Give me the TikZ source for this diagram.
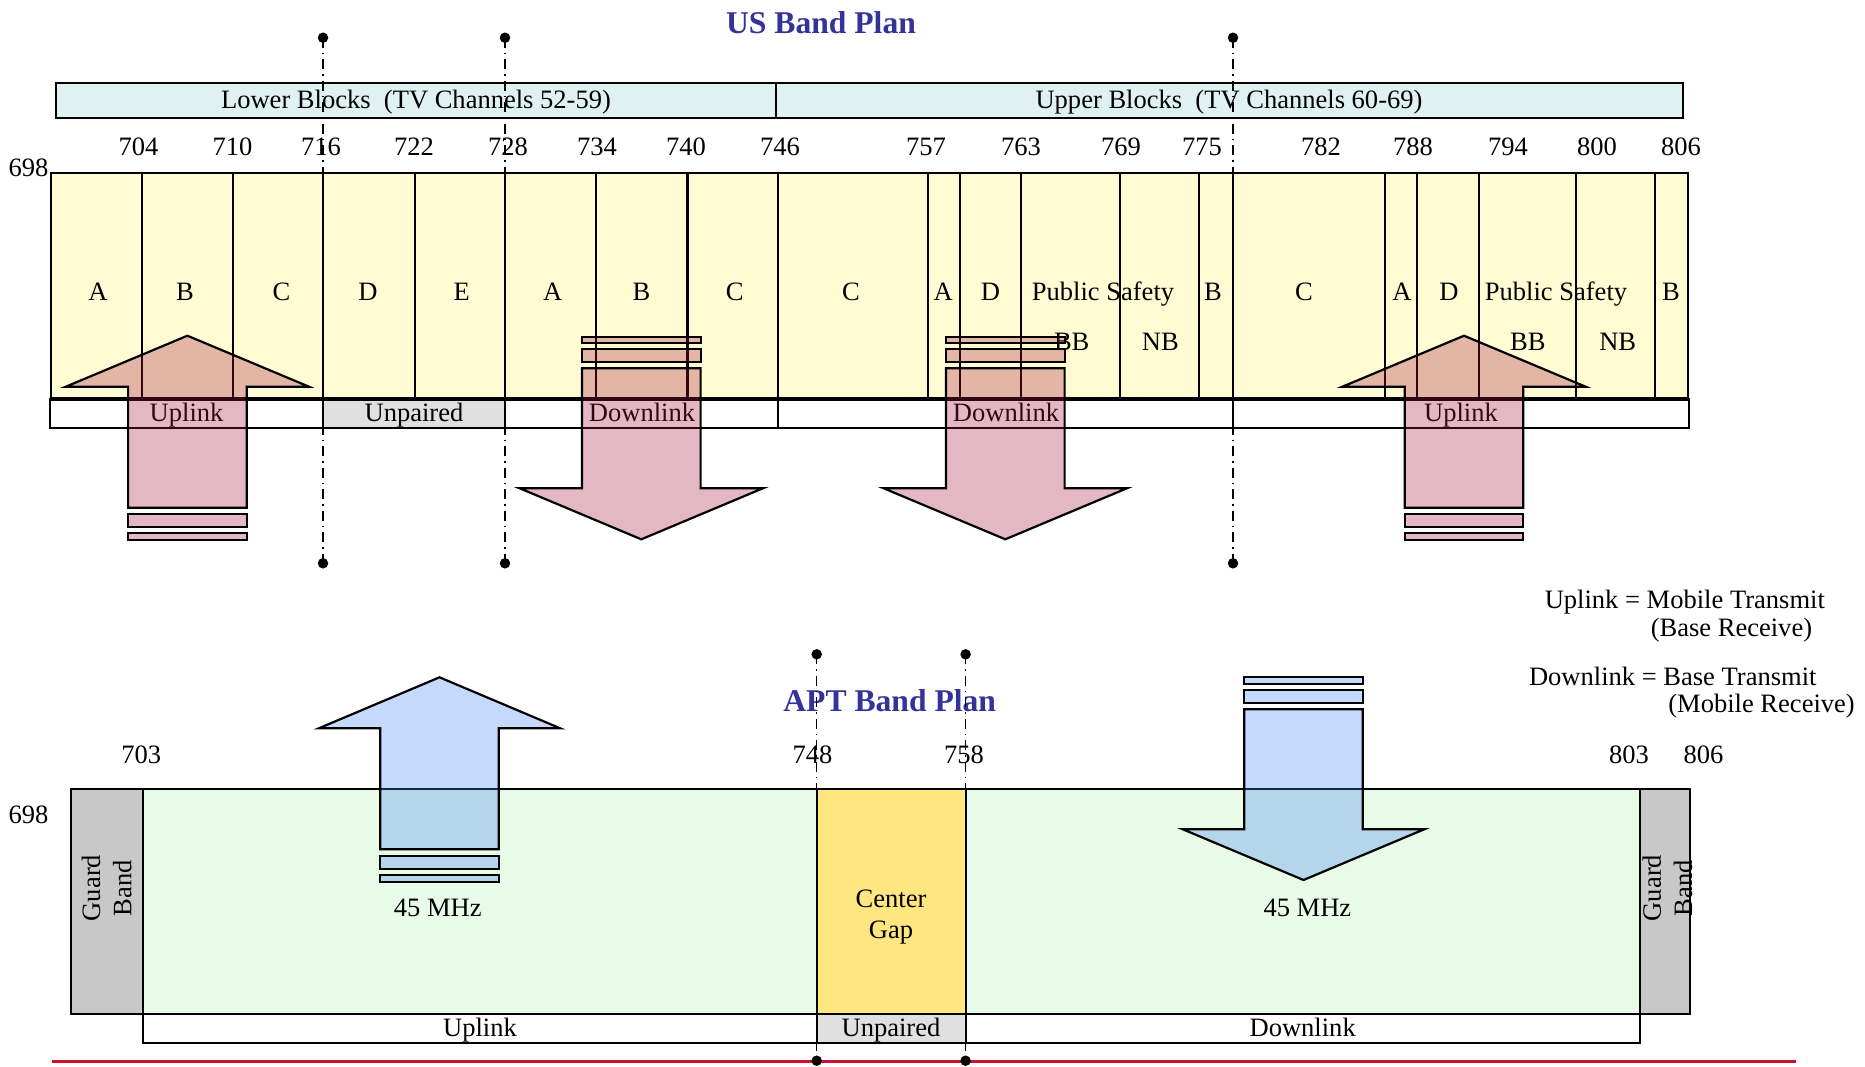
\documentclass[tikz,border=0pt]{standalone}
\usepackage{fontspec}
\setmainfont{Liberation Serif}
\definecolor{BandTitle}{HTML}{333399}
\definecolor{BandYellow}{HTML}{FFFCD4}
\definecolor{BandCyan}{HTML}{DFF1F1}
\definecolor{BandGrey}{HTML}{E0E0E0}
\definecolor{BandGreen}{HTML}{E8FBE8}
\definecolor{BandGap}{HTML}{FFE680}
\definecolor{BandGuard}{HTML}{C8C8C8}
\definecolor{BandPink}{RGB}{165,18,58}
\definecolor{BandBlue}{RGB}{62,128,245}
\definecolor{BandRed}{HTML}{CC1030}
\tikzset{
  bandline/.style={line width=1.25pt},
  markerline/.style={line width=0.9pt,dash pattern=on 2mm off 1mm on 0.3mm off 1mm},
  plantext/.style={anchor=base,inner sep=0pt,font=\fontsize{15.1}{17.8}\selectfont},
  plantitle/.style={anchor=base,inner sep=0pt,text=BandTitle,
    font=\bfseries\fontsize{18}{21}\selectfont},
  pinkarrow/.style={draw=black,line width=1.25pt,fill=BandPink,fill opacity=0.3},
  bluearrow/.style={draw=black,line width=1.25pt,fill=BandBlue,fill opacity=0.3},
}

\begin{document}
\begin{tikzpicture}[x=0.2mm,y=-0.2mm]
  \useasboundingbox (0,0) rectangle (1865,1066);

  % US band plan
  \node[plantitle] (usTitle) at (821,33.3) {US Band Plan};

  \filldraw[bandline,fill=BandCyan] (56,82.7) rectangle (776,118.3);
  \filldraw[bandline,fill=BandCyan] (776,82.7) rectangle (1682.6,118.3);
  \node[plantext] (lowerBlocks) at (416,108.3) {Lower Blocks\ \ (TV Channels 52-59)};
  \node[plantext] (upperBlocks) at (1229,108.3) {Upper Blocks\ \ (TV Channels 60-69)};

  \node[plantext] (us698) at (28.5,176.7) {698};
  \foreach \f/\x in {704/138.6,710/232.5,716/321,722/414,728/508,734/597,
      740/686,746/780,757/926,763/1021,769/1121,775/1202,782/1321,788/1413,
      794/1508,800/1597,806/1681}
    \node[plantext] (us\f) at (\x,155.7) {\f};

  \filldraw[bandline,fill=BandYellow] (51,173.3) rectangle (1687.7,398.5);
  \foreach \x in {141.6,232.9,323,414.8,505,596.3,687.5,778.2,928.3,959.8,
      1020.7,1119.8,1199,1233,1385,1416.7,1479,1576,1654.6}
    \draw[bandline] (\x,173.3) -- (\x,398.5);

  \foreach \t/\x [count=\i] in {A/98,B/185,C/281.5,D/368,E/461.8,A/552.8,
      B/641.5,C/734.7,C/851,A/943.2,D/990.5,Public Safety/1103,B/1213,
      C/1304,A/1402,D/1449,Public Safety/1556,B/1671}
    \node[plantext] (usBlock\i) at (\x,300) {\t};
  \node[plantext] (usBB1) at (1071.7,350) {BB};
  \node[plantext] (usNB1) at (1160.4,350) {NB};
  \node[plantext] (usBB2) at (1527.8,350) {BB};
  \node[plantext] (usNB2) at (1617.7,350) {NB};

  \draw[bandline] (50,399.5) rectangle (323,428.3);
  \filldraw[bandline,fill=BandGrey] (323,399.5) rectangle (505,428.3);
  \draw[bandline] (505,399.5) rectangle (778.2,428.3);
  \draw[bandline] (778.2,399.5) rectangle (1233,428.3);
  \draw[bandline] (1233,399.5) rectangle (1689,428.3);
  \node[plantext] (usUp1) at (186.6,421.7) {Uplink};
  \node[plantext] (usUnpaired) at (414,421.7) {Unpaired};
  \node[plantext] (usDown1) at (642,421.7) {Downlink};
  \node[plantext] (usDown2) at (1006,421.7) {Downlink};
  \node[plantext] (usUp2) at (1461,421.7) {Uplink};

  \filldraw[pinkarrow] (187.4,335.7) -- (309,386.7) -- (246.7,386.7) -- (246.7,507.7)
    -- (128.1,507.7) -- (128.1,386.7) -- (65.8,386.7) -- cycle;
  \filldraw[pinkarrow] (128.1,514.3) rectangle (246.7,527);
  \filldraw[pinkarrow] (128.1,533.3) rectangle (246.7,540);

  \filldraw[pinkarrow] (582,336.7) rectangle (700.6,342.7);
  \filldraw[pinkarrow] (582,349.3) rectangle (700.6,361.7);
  \filldraw[pinkarrow] (582,368.3) -- (700.6,368.3) -- (700.6,488.3) -- (762.9,488.3)
    -- (641.3,539.3) -- (519.7,488.3) -- (582,488.3) -- cycle;

  \filldraw[pinkarrow] (946,336.7) rectangle (1064.6,342.7);
  \filldraw[pinkarrow] (946,349.3) rectangle (1064.6,361.7);
  \filldraw[pinkarrow] (946,368.3) -- (1064.6,368.3) -- (1064.6,488.3) -- (1126.9,488.3)
    -- (1005.3,539.3) -- (883.7,488.3) -- (946,488.3) -- cycle;

  \filldraw[pinkarrow] (1464,335.7) -- (1585.6,386.7) -- (1523.3,386.7) -- (1523.3,507.7)
    -- (1404.7,507.7) -- (1404.7,386.7) -- (1342.4,386.7) -- cycle;
  \filldraw[pinkarrow] (1404.7,514.3) rectangle (1523.3,527);
  \filldraw[pinkarrow] (1404.7,533.3) rectangle (1523.3,540);

  \coordinate (m716t) at (323,37.7);
  \coordinate (m716b) at (323,563.3);
  \coordinate (m728t) at (505,37.7);
  \coordinate (m728b) at (505,563.3);
  \coordinate (m776t) at (1233,37.7);
  \coordinate (m776b) at (1233,563.3);
  \draw[markerline] (m716t) -- (m716b);
  \draw[markerline] (m728t) -- (m728b);
  \draw[markerline] (m776t) -- (m776b);
  \foreach \m in {m716t,m716b,m728t,m728b,m776t,m776b}
    \fill (\m) circle[radius=1.05mm];

  % legend
  \node[plantext,anchor=base west] (legUp) at (1544.4,608.3) {Uplink = Mobile Transmit};
  \node[plantext,anchor=base west] (legUpB) at (1650.4,636.7) {(Base Receive)};
  \node[plantext,anchor=base west] (legDown) at (1528.7,685) {Downlink = Base Transmit};
  \node[plantext,anchor=base west] (legDownB) at (1668,712) {(Mobile Receive)};

  % APT band plan
  \node[plantitle] (aptTitle) at (889.7,711) {APT Band Plan};

  \node[plantext] (apt698) at (28.5,823.3) {698};
  \foreach \f/\x in {703/141.2,748/812.6,758/964,803/1628.9,806/1703.4}
    \node[plantext] (apt\f) at (\x,763.3) {\f};

  \filldraw[bandline,fill=BandGuard] (70.6,789.3) rectangle (142.9,1014.3);
  \filldraw[bandline,fill=BandGreen] (142.9,789.3) rectangle (816.7,1014.3);
  \filldraw[bandline,fill=BandGap] (816.7,789.3) rectangle (965.6,1014.3);
  \filldraw[bandline,fill=BandGreen] (965.6,789.3) rectangle (1639.6,1014.3);
  \filldraw[bandline,fill=BandGuard] (1639.6,789.3) rectangle (1690.3,1014.3);

  \draw[bandline] (142.9,1014.3) rectangle (816.7,1043.3);
  \filldraw[bandline,fill=BandGrey] (816.7,1014.3) rectangle (965.6,1043.3);
  \draw[bandline] (965.6,1014.3) rectangle (1639.6,1043.3);
  \node[plantext] (aptUp) at (480,1036.7) {Uplink};
  \node[plantext] (aptUnpaired) at (891,1036.7) {Unpaired};
  \node[plantext] (aptDown) at (1302.7,1036.7) {Downlink};

  \node[plantext,anchor=center,align=center] (aptGap) at (891,917) {Center\\Gap};
  \node[plantext,anchor=center,align=center,rotate=90] (guardL) at (106.7,888) {Guard\\Band};
  \node[plantext,anchor=center,align=center,rotate=90] (guardR) at (1667.5,888) {Guard\\Band};
  \node[plantext] (aptUpMHz) at (437.7,916.7) {45 MHz};
  \node[plantext] (aptDownMHz) at (1307.4,916.7) {45 MHz};

  \filldraw[bluearrow] (439.5,677.3) -- (560.2,728.3) -- (498.8,728.3) -- (498.8,849.3)
    -- (380.2,849.3) -- (380.2,728.3) -- (318.8,728.3) -- cycle;
  \filldraw[bluearrow] (380.2,855.7) rectangle (498.8,869);
  \filldraw[bluearrow] (380.2,875) rectangle (498.8,882);

  \filldraw[bluearrow] (1244.2,677.3) rectangle (1362.8,684);
  \filldraw[bluearrow] (1244.2,690) rectangle (1362.8,702.7);
  \filldraw[bluearrow] (1244.2,709.3) -- (1362.8,709.3) -- (1362.8,829.3) -- (1424.2,829.3)
    -- (1303.5,880) -- (1182.8,829.3) -- (1244.2,829.3) -- cycle;

  \coordinate (redL) at (52.2,1061.7);
  \coordinate (redR) at (1796.4,1061.7);
  \draw[BandRed,line width=1.5pt] (redL) -- (redR);

  \coordinate (m748t) at (816.7,654.3);
  \coordinate (m748b) at (816.7,1060.7);
  \coordinate (m758t) at (965.6,654.3);
  \coordinate (m758b) at (965.6,1060.7);
  \draw[markerline] (m748t) -- (m748b);
  \draw[markerline] (m758t) -- (m758b);
  \foreach \m in {m748t,m748b,m758t,m758b}
    \fill (\m) circle[radius=1.05mm];
\end{tikzpicture}
\end{document}
